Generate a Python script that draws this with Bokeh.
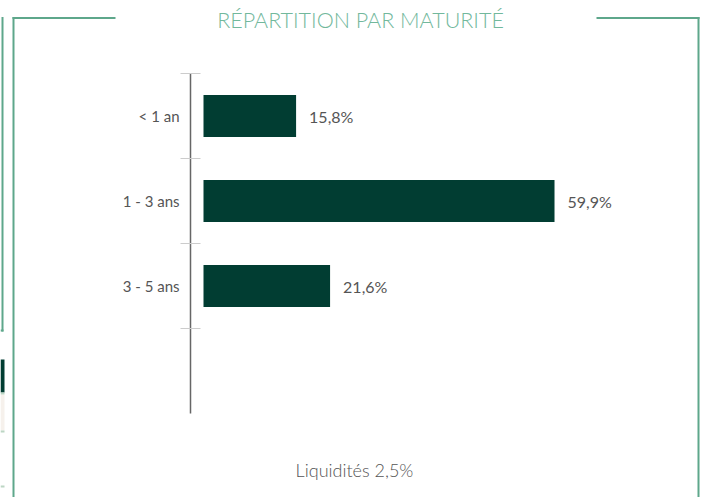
from bokeh.plotting import figure
from bokeh.models import Range1d, ColumnDataSource
from bokeh.core.properties import value
from bokeh.embed import file_html
from bokeh.resources import INLINE

# ---- data ----
categories = ["< 1 an", "1 - 3 ans", "3 - 5 ans"]
shares = [15.8, 59.9, 21.6]
liquidity_label = "Liquidités"
liquidity_share = 2.5
title_text = "RÉPARTITION PAR MATURITÉ"


def fmt(v):
    return f"{v:.1f}".replace(".", ",") + "%"


# ---- layout constants (pixels) ----
W, H = 702, 497
PX_PER_PCT = 5.86          # pixels per percent on the value axis
ZERO_FX = 203              # pixel of 0 % inside the figure
BAND = 85                  # pixel height of one category band
FIRST_FY = 115.5           # pixel centre of first band inside the figure
BAR_GAP = 13               # gap between axis line and bars


def sx(X):
    return (X - ZERO_FX) / PX_PER_PCT


def sy(Y):
    return (Y - FIRST_FY) / BAND


p = figure(width=W, height=H, output_backend="svg", toolbar_location=None,
           x_range=Range1d(sx(0), sx(W)),
           y_range=Range1d(start=sy(H), end=sy(0)),
           x_axis_location=None, y_axis_location=None, min_border=0,
           outline_line_color=None, background_fill_color="white",
           border_fill_color="white")
p.grid.visible = False

idx = list(range(len(categories)))
src = ColumnDataSource(dict(y=idx, v=shares, cat=categories,
                            lab=[fmt(s) for s in shares]))

# bars
p.hbar(y="y", left=0, right="v", height=0.494, source=src,
       fill_color="#013d32", line_color=None)

# category axis (line + tick marks at band boundaries)
axis_x = -BAR_GAP / PX_PER_PCT
n_bands = len(categories) + 1
p.segment(x0=[axis_x], y0=[-0.5], x1=[axis_x], y1=[n_bands - 0.5],
          line_color="#666666", line_width=1.5)
tick_half = 10 / PX_PER_PCT
bounds = [i - 0.5 for i in range(n_bands)]
p.segment(x0=[axis_x - tick_half] * len(bounds), y0=bounds,
          x1=[axis_x + tick_half] * len(bounds), y1=bounds,
          line_color="#cccccc", line_width=1)

# category labels
p.text(x=axis_x, y="y", text="cat", source=src, x_offset=-11,
       text_align="right", text_baseline="middle",
       text_font=value("Lato"), text_font_size="15px", text_color="#555555")

# value labels
p.text(x="v", y="y", text="lab", source=src, x_offset=13,
       text_align="left", text_baseline="middle",
       text_font=value("Lato"), text_font_size="16px", text_color="#555555")

# liquidity note
p.text(x=[sx(354)], y=[sy(469)], text=[f"{liquidity_label} {fmt(liquidity_share)}"],
       text_align="center", text_baseline="alphabetic",
       text_font=value("'Lato Light', Lato"), text_font_size="18px",
       text_color="#555555")

# decorative frame
frame_col = "#5ea78b"
p.segment(x0=[sx(12), sx(596)], y0=[sy(17.5), sy(17.5)],
          x1=[sx(115), sx(699)], y1=[sy(17.5), sy(17.5)],
          line_color=frame_col, line_width=2)
p.segment(x0=[sx(13), sx(698), sx(2)], y0=[sy(16.5), sy(16.5), sy(16.5)],
          x1=[sx(13), sx(698), sx(2)], y1=[sy(H), sy(H), sy(331)],
          line_color=frame_col, line_width=2)
p.segment(x0=[sx(0)], y0=[sy(330)], x1=[sx(3)], y1=[sy(330)],
          line_color=frame_col, line_width=2)

# fragments of the neighbouring panel on the left edge
p.quad(left=[sx(0)] * 2, right=[sx(4)] * 2,
       top=[sy(359), sy(394)], bottom=[sy(392), sy(430)],
       fill_color=["#013d32", "#f6f1ec"], line_color=None)
p.quad(left=[sx(0)] * 3, right=[sx(4)] * 3,
       top=[sy(392), sy(430), sy(485)], bottom=[sy(394), sy(432), sy(487)],
       fill_color="#bcd6c4", line_color=None)

# title
p.text(x=[sx(360)], y=[sy(19)], text=[title_text], text_align="center",
       text_baseline="alphabetic", text_font=value("'Lato Light', Lato"),
       text_font_size="21.5px", text_color="#72b89c")

open("out.html", "w").write(file_html(p, INLINE))
